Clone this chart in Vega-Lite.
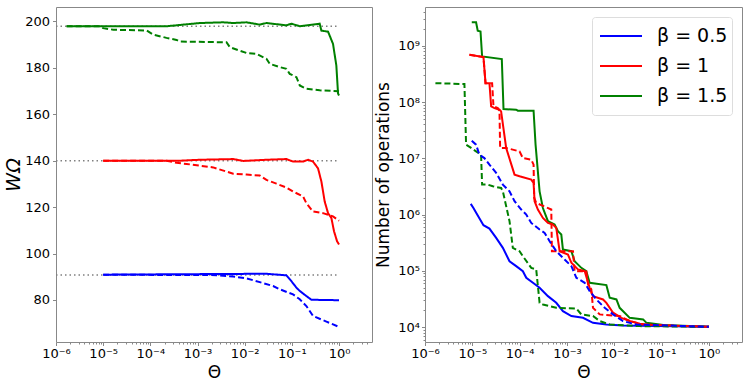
{
  "$schema": "https://vega.github.io/schema/vega-lite/v6.json",
  "background": "white",
  "padding": {"left": 4, "top": 6, "right": 0, "bottom": 0},
  "spacing": 1,
  "config": {
    "font": "DejaVu Sans",
    "view": {"stroke": "#888888", "strokeWidth": 1},
    "axis": {"domain": false, "grid": false, "tickSize": 3.5, "tickColor": "#888888", "labelFont": "DejaVu Sans", "labelFontSize": 13, "labelColor": "#000000", "titleFont": "DejaVu Sans", "titleFontSize": 17, "titleFontWeight": "normal", "titleColor": "#000000", "labelPadding": 2, "labelFlush": false, "labelOverlap": false}
  },
  "datasets": {
    "ref": [
      {"level": "g", "theta": 1e-6, "w": 197.9}, {"level": "g", "theta": 1, "w": 197.9},
      {"level": "r", "theta": 1e-6, "w": 140.0}, {"level": "r", "theta": 1, "w": 140.0},
      {"level": "b", "theta": 1e-6, "w": 90.8}, {"level": "b", "theta": 1, "w": 90.8}
    ],
    "left": [
      {"beta": "β = 1.5", "style": "solid", "theta": 1.68e-6, "w": 197.9},
      {"beta": "β = 1.5", "style": "solid", "theta": 2.2e-4, "w": 197.9},
      {"beta": "β = 1.5", "style": "solid", "theta": 1.12e-3, "w": 199.3},
      {"beta": "β = 1.5", "style": "solid", "theta": 3.49e-3, "w": 199.6},
      {"beta": "β = 1.5", "style": "solid", "theta": 5.71e-3, "w": 199.3},
      {"beta": "β = 1.5", "style": "solid", "theta": 1.09e-2, "w": 199.6},
      {"beta": "β = 1.5", "style": "solid", "theta": 2.09e-2, "w": 198.6},
      {"beta": "β = 1.5", "style": "solid", "theta": 2.89e-2, "w": 199.3},
      {"beta": "β = 1.5", "style": "solid", "theta": 7.67e-2, "w": 198.3},
      {"beta": "β = 1.5", "style": "solid", "theta": 9.77e-2, "w": 199.0},
      {"beta": "β = 1.5", "style": "solid", "theta": 0.147, "w": 197.9},
      {"beta": "β = 1.5", "style": "solid", "theta": 0.389, "w": 199.0},
      {"beta": "β = 1.5", "style": "solid", "theta": 0.423, "w": 196.0},
      {"beta": "β = 1.5", "style": "solid", "theta": 0.585, "w": 195.6},
      {"beta": "β = 1.5", "style": "solid", "theta": 0.746, "w": 190.3},
      {"beta": "β = 1.5", "style": "solid", "theta": 0.877, "w": 181.0},
      {"beta": "β = 1.5", "style": "solid", "theta": 0.953, "w": 168.9},
      {"beta": "β = 1.5", "style": "solid", "theta": 1, "w": 168.1},
      {"beta": "β = 1.5", "style": "dashed", "theta": 1.68e-6, "w": 197.9},
      {"beta": "β = 1.5", "style": "dashed", "theta": 8.55e-6, "w": 197.9},
      {"beta": "β = 1.5", "style": "dashed", "theta": 1.0e-5, "w": 197.1},
      {"beta": "β = 1.5", "style": "dashed", "theta": 1.64e-5, "w": 196.4},
      {"beta": "β = 1.5", "style": "dashed", "theta": 8.3e-5, "w": 196.1},
      {"beta": "β = 1.5", "style": "dashed", "theta": 1.15e-4, "w": 194.3},
      {"beta": "β = 1.5", "style": "dashed", "theta": 2.2e-4, "w": 192.9},
      {"beta": "β = 1.5", "style": "dashed", "theta": 3.59e-4, "w": 192.0},
      {"beta": "β = 1.5", "style": "dashed", "theta": 4.23e-4, "w": 191.3},
      {"beta": "β = 1.5", "style": "dashed", "theta": 4.11e-3, "w": 191.0},
      {"beta": "β = 1.5", "style": "dashed", "theta": 4.84e-3, "w": 188.9},
      {"beta": "β = 1.5", "style": "dashed", "theta": 7.87e-3, "w": 187.4},
      {"beta": "β = 1.5", "style": "dashed", "theta": 1.09e-2, "w": 186.4},
      {"beta": "β = 1.5", "style": "dashed", "theta": 1.77e-2, "w": 186.0},
      {"beta": "β = 1.5", "style": "dashed", "theta": 2.89e-2, "w": 183.9},
      {"beta": "β = 1.5", "style": "dashed", "theta": 3.40e-2, "w": 181.7},
      {"beta": "β = 1.5", "style": "dashed", "theta": 5.55e-2, "w": 180.3},
      {"beta": "β = 1.5", "style": "dashed", "theta": 7.67e-2, "w": 179.6},
      {"beta": "β = 1.5", "style": "dashed", "theta": 9.02e-2, "w": 177.4},
      {"beta": "β = 1.5", "style": "dashed", "theta": 0.125, "w": 176.0},
      {"beta": "β = 1.5", "style": "dashed", "theta": 0.147, "w": 172.4},
      {"beta": "β = 1.5", "style": "dashed", "theta": 0.203, "w": 171.0},
      {"beta": "β = 1.5", "style": "dashed", "theta": 0.389, "w": 170.3},
      {"beta": "β = 1.5", "style": "dashed", "theta": 1, "w": 169.9},
      {"beta": "β = 1", "style": "solid", "theta": 1e-5, "w": 140.0},
      {"beta": "β = 1", "style": "solid", "theta": 4.23e-4, "w": 140.0},
      {"beta": "β = 1", "style": "solid", "theta": 1.12e-3, "w": 140.4},
      {"beta": "β = 1", "style": "solid", "theta": 5.71e-3, "w": 140.7},
      {"beta": "β = 1", "style": "solid", "theta": 9.27e-3, "w": 139.9},
      {"beta": "β = 1", "style": "solid", "theta": 2.89e-2, "w": 140.4},
      {"beta": "β = 1", "style": "solid", "theta": 7.67e-2, "w": 140.7},
      {"beta": "β = 1", "style": "solid", "theta": 0.106, "w": 139.6},
      {"beta": "β = 1", "style": "solid", "theta": 0.173, "w": 139.6},
      {"beta": "β = 1", "style": "solid", "theta": 0.220, "w": 140.4},
      {"beta": "β = 1", "style": "solid", "theta": 0.281, "w": 139.6},
      {"beta": "β = 1", "style": "solid", "theta": 0.359, "w": 136.7},
      {"beta": "β = 1", "style": "solid", "theta": 0.423, "w": 131.0},
      {"beta": "β = 1", "style": "solid", "theta": 0.497, "w": 122.4},
      {"beta": "β = 1", "style": "solid", "theta": 0.585, "w": 117.4},
      {"beta": "β = 1", "style": "solid", "theta": 0.689, "w": 115.3},
      {"beta": "β = 1", "style": "solid", "theta": 0.783, "w": 109.6},
      {"beta": "β = 1", "style": "solid", "theta": 0.908, "w": 105.3},
      {"beta": "β = 1", "style": "solid", "theta": 1, "w": 103.9},
      {"beta": "β = 1", "style": "dashed", "theta": 1e-5, "w": 140.0},
      {"beta": "β = 1", "style": "dashed", "theta": 2.2e-4, "w": 140.0},
      {"beta": "β = 1", "style": "dashed", "theta": 3.59e-4, "w": 139.1},
      {"beta": "β = 1", "style": "dashed", "theta": 5.85e-4, "w": 138.6},
      {"beta": "β = 1", "style": "dashed", "theta": 2.15e-3, "w": 137.1},
      {"beta": "β = 1", "style": "dashed", "theta": 4.11e-3, "w": 135.3},
      {"beta": "β = 1", "style": "dashed", "theta": 5.71e-3, "w": 134.4},
      {"beta": "β = 1", "style": "dashed", "theta": 1.09e-2, "w": 134.0},
      {"beta": "β = 1", "style": "dashed", "theta": 2.09e-2, "w": 133.6},
      {"beta": "β = 1", "style": "dashed", "theta": 2.89e-2, "w": 131.7},
      {"beta": "β = 1", "style": "dashed", "theta": 4.71e-2, "w": 130.1},
      {"beta": "β = 1", "style": "dashed", "theta": 7.67e-2, "w": 128.4},
      {"beta": "β = 1", "style": "dashed", "theta": 0.106, "w": 126.7},
      {"beta": "β = 1", "style": "dashed", "theta": 0.173, "w": 124.6},
      {"beta": "β = 1", "style": "dashed", "theta": 0.203, "w": 121.7},
      {"beta": "β = 1", "style": "dashed", "theta": 0.281, "w": 118.1},
      {"beta": "β = 1", "style": "dashed", "theta": 0.458, "w": 117.4},
      {"beta": "β = 1", "style": "dashed", "theta": 0.746, "w": 116.0},
      {"beta": "β = 1", "style": "dashed", "theta": 1, "w": 114.1},
      {"beta": "β = 0.5", "style": "solid", "theta": 1e-5, "w": 90.9},
      {"beta": "β = 0.5", "style": "solid", "theta": 2.89e-2, "w": 91.3},
      {"beta": "β = 0.5", "style": "solid", "theta": 7.67e-2, "w": 90.6},
      {"beta": "β = 0.5", "style": "solid", "theta": 9.77e-2, "w": 88.1},
      {"beta": "β = 0.5", "style": "solid", "theta": 0.125, "w": 85.3},
      {"beta": "β = 0.5", "style": "solid", "theta": 0.147, "w": 83.9},
      {"beta": "β = 0.5", "style": "solid", "theta": 0.203, "w": 81.7},
      {"beta": "β = 0.5", "style": "solid", "theta": 0.259, "w": 80.1},
      {"beta": "β = 0.5", "style": "solid", "theta": 1, "w": 79.9},
      {"beta": "β = 0.5", "style": "dashed", "theta": 1e-5, "w": 90.9},
      {"beta": "β = 0.5", "style": "dashed", "theta": 2.52e-3, "w": 90.7},
      {"beta": "β = 0.5", "style": "dashed", "theta": 5.71e-3, "w": 90.1},
      {"beta": "β = 0.5", "style": "dashed", "theta": 1.09e-2, "w": 89.3},
      {"beta": "β = 0.5", "style": "dashed", "theta": 2.09e-2, "w": 87.7},
      {"beta": "β = 0.5", "style": "dashed", "theta": 4.0e-2, "w": 86.0},
      {"beta": "β = 0.5", "style": "dashed", "theta": 5.55e-2, "w": 84.6},
      {"beta": "β = 0.5", "style": "dashed", "theta": 0.106, "w": 82.4},
      {"beta": "β = 0.5", "style": "dashed", "theta": 0.147, "w": 80.3},
      {"beta": "β = 0.5", "style": "dashed", "theta": 0.203, "w": 77.4},
      {"beta": "β = 0.5", "style": "dashed", "theta": 0.281, "w": 73.1},
      {"beta": "β = 0.5", "style": "dashed", "theta": 0.410, "w": 71.7},
      {"beta": "β = 0.5", "style": "dashed", "theta": 0.540, "w": 70.7},
      {"beta": "β = 0.5", "style": "dashed", "theta": 1, "w": 68.4}
    ],
    "right": [
      {"beta": "β = 1.5", "style": "solid", "theta": 9.73e-6, "ops": 2.63e9},
      {"beta": "β = 1.5", "style": "solid", "theta": 1.20e-5, "ops": 2.63e9},
      {"beta": "β = 1.5", "style": "solid", "theta": 1.30e-5, "ops": 1.85e9},
      {"beta": "β = 1.5", "style": "solid", "theta": 1.49e-5, "ops": 1.80e9},
      {"beta": "β = 1.5", "style": "solid", "theta": 1.61e-5, "ops": 6.47e8},
      {"beta": "β = 1.5", "style": "solid", "theta": 4.20e-5, "ops": 5.80e8},
      {"beta": "β = 1.5", "style": "solid", "theta": 4.56e-5, "ops": 7.51e7},
      {"beta": "β = 1.5", "style": "solid", "theta": 8.45e-5, "ops": 7.31e7},
      {"beta": "β = 1.5", "style": "solid", "theta": 9.16e-5, "ops": 7.02e7},
      {"beta": "β = 1.5", "style": "solid", "theta": 1.97e-4, "ops": 7.02e7},
      {"beta": "β = 1.5", "style": "solid", "theta": 2.17e-4, "ops": 1.75e7},
      {"beta": "β = 1.5", "style": "solid", "theta": 2.64e-4, "ops": 2.59e6},
      {"beta": "β = 1.5", "style": "solid", "theta": 3.10e-4, "ops": 1.31e6},
      {"beta": "β = 1.5", "style": "solid", "theta": 3.96e-4, "ops": 7.62e5},
      {"beta": "β = 1.5", "style": "solid", "theta": 5.48e-4, "ops": 6.64e5},
      {"beta": "β = 1.5", "style": "solid", "theta": 6.44e-4, "ops": 5.06e5},
      {"beta": "β = 1.5", "style": "solid", "theta": 7.59e-4, "ops": 4.42e5},
      {"beta": "β = 1.5", "style": "solid", "theta": 8.22e-4, "ops": 2.39e5},
      {"beta": "β = 1.5", "style": "solid", "theta": 1.24e-3, "ops": 2.23e5},
      {"beta": "β = 1.5", "style": "solid", "theta": 1.45e-3, "ops": 1.48e5},
      {"beta": "β = 1.5", "style": "solid", "theta": 2.01e-3, "ops": 1.13e5},
      {"beta": "β = 1.5", "style": "solid", "theta": 2.56e-3, "ops": 9.86e4},
      {"beta": "β = 1.5", "style": "solid", "theta": 3.02e-3, "ops": 6.12e4},
      {"beta": "β = 1.5", "style": "solid", "theta": 6.81e-3, "ops": 5.57e4},
      {"beta": "β = 1.5", "style": "solid", "theta": 8.00e-3, "ops": 3.32e4},
      {"beta": "β = 1.5", "style": "solid", "theta": 1.11e-2, "ops": 3.10e4},
      {"beta": "β = 1.5", "style": "solid", "theta": 1.30e-2, "ops": 2.20e4},
      {"beta": "β = 1.5", "style": "solid", "theta": 2.12e-2, "ops": 1.46e4},
      {"beta": "β = 1.5", "style": "solid", "theta": 4.07e-2, "ops": 1.37e4},
      {"beta": "β = 1.5", "style": "solid", "theta": 4.79e-2, "ops": 1.19e4},
      {"beta": "β = 1.5", "style": "solid", "theta": 0.108, "ops": 1.09e4},
      {"beta": "β = 1.5", "style": "solid", "theta": 1, "ops": 1.01e4},
      {"beta": "β = 1.5", "style": "dashed", "theta": 1.66e-6, "ops": 2.17e8},
      {"beta": "β = 1.5", "style": "dashed", "theta": 6.81e-6, "ops": 2.09e8},
      {"beta": "β = 1.5", "style": "dashed", "theta": 7.38e-6, "ops": 1.75e7},
      {"beta": "β = 1.5", "style": "dashed", "theta": 9.42e-6, "ops": 1.53e7},
      {"beta": "β = 1.5", "style": "dashed", "theta": 1.20e-5, "ops": 1.33e7},
      {"beta": "β = 1.5", "style": "dashed", "theta": 1.53e-5, "ops": 1.16e7},
      {"beta": "β = 1.5", "style": "dashed", "theta": 1.61e-5, "ops": 3.41e6},
      {"beta": "β = 1.5", "style": "dashed", "theta": 2.12e-5, "ops": 3.41e6},
      {"beta": "β = 1.5", "style": "dashed", "theta": 2.71e-5, "ops": 3.18e6},
      {"beta": "β = 1.5", "style": "dashed", "theta": 4.06e-5, "ops": 2.97e6},
      {"beta": "β = 1.5", "style": "dashed", "theta": 4.42e-5, "ops": 2.59e6},
      {"beta": "β = 1.5", "style": "dashed", "theta": 6.11e-5, "ops": 7.62e5},
      {"beta": "β = 1.5", "style": "dashed", "theta": 7.18e-5, "ops": 2.56e5},
      {"beta": "β = 1.5", "style": "dashed", "theta": 9.95e-5, "ops": 2.23e5},
      {"beta": "β = 1.5", "style": "dashed", "theta": 1.17e-4, "ops": 1.82e5},
      {"beta": "β = 1.5", "style": "dashed", "theta": 1.76e-4, "ops": 1.13e5},
      {"beta": "β = 1.5", "style": "dashed", "theta": 2.24e-4, "ops": 1.06e5},
      {"beta": "β = 1.5", "style": "dashed", "theta": 2.64e-4, "ops": 2.70e4},
      {"beta": "β = 1.5", "style": "dashed", "theta": 3.10e-4, "ops": 2.52e4},
      {"beta": "β = 1.5", "style": "dashed", "theta": 5.94e-4, "ops": 2.20e4},
      {"beta": "β = 1.5", "style": "dashed", "theta": 1.58e-3, "ops": 2.14e4},
      {"beta": "β = 1.5", "style": "dashed", "theta": 2.01e-3, "ops": 1.68e4},
      {"beta": "β = 1.5", "style": "dashed", "theta": 3.55e-3, "ops": 1.57e4},
      {"beta": "β = 1.5", "style": "dashed", "theta": 4.92e-3, "ops": 1.28e4},
      {"beta": "β = 1.5", "style": "dashed", "theta": 8.00e-3, "ops": 1.11e4},
      {"beta": "β = 1.5", "style": "dashed", "theta": 3.46e-2, "ops": 1.04e4},
      {"beta": "β = 1.5", "style": "dashed", "theta": 1, "ops": 1.01e4},
      {"beta": "β = 1", "style": "solid", "theta": 8.69e-6, "ops": 6.92e8},
      {"beta": "β = 1", "style": "solid", "theta": 1.72e-5, "ops": 6.30e8},
      {"beta": "β = 1", "style": "solid", "theta": 1.90e-5, "ops": 2.17e8},
      {"beta": "β = 1", "style": "solid", "theta": 2.30e-5, "ops": 2.17e8},
      {"beta": "β = 1", "style": "solid", "theta": 2.50e-5, "ops": 8.38e7},
      {"beta": "β = 1", "style": "solid", "theta": 2.94e-5, "ops": 7.82e7},
      {"beta": "β = 1", "style": "solid", "theta": 3.75e-5, "ops": 7.31e7},
      {"beta": "β = 1", "style": "solid", "theta": 4.06e-5, "ops": 6.83e7},
      {"beta": "β = 1", "style": "solid", "theta": 5.19e-5, "ops": 1.53e7},
      {"beta": "β = 1", "style": "solid", "theta": 7.80e-5, "ops": 5.13e6},
      {"beta": "β = 1", "style": "solid", "theta": 9.95e-5, "ops": 4.79e6},
      {"beta": "β = 1", "style": "solid", "theta": 1.76e-4, "ops": 4.18e6},
      {"beta": "β = 1", "style": "solid", "theta": 1.97e-4, "ops": 3.65e6},
      {"beta": "β = 1", "style": "solid", "theta": 2.07e-4, "ops": 1.73e6},
      {"beta": "β = 1", "style": "solid", "theta": 2.43e-4, "ops": 1.23e6},
      {"beta": "β = 1", "style": "solid", "theta": 3.10e-4, "ops": 8.73e5},
      {"beta": "β = 1", "style": "solid", "theta": 3.96e-4, "ops": 7.11e5},
      {"beta": "β = 1", "style": "solid", "theta": 5.05e-4, "ops": 6.64e5},
      {"beta": "β = 1", "style": "solid", "theta": 5.94e-4, "ops": 5.80e5},
      {"beta": "β = 1", "style": "solid", "theta": 7.00e-4, "ops": 2.23e5},
      {"beta": "β = 1", "style": "solid", "theta": 1.05e-3, "ops": 1.95e5},
      {"beta": "β = 1", "style": "solid", "theta": 1.24e-3, "ops": 1.39e5},
      {"beta": "β = 1", "style": "solid", "theta": 1.71e-3, "ops": 1.06e5},
      {"beta": "β = 1", "style": "solid", "theta": 2.37e-3, "ops": 9.86e4},
      {"beta": "β = 1", "style": "solid", "theta": 3.02e-3, "ops": 4.99e4},
      {"beta": "β = 1", "style": "solid", "theta": 3.55e-3, "ops": 3.55e4},
      {"beta": "β = 1", "style": "solid", "theta": 5.78e-3, "ops": 3.10e4},
      {"beta": "β = 1", "style": "solid", "theta": 6.81e-3, "ops": 2.70e4},
      {"beta": "β = 1", "style": "solid", "theta": 9.42e-3, "ops": 1.80e4},
      {"beta": "β = 1", "style": "solid", "theta": 1.41e-2, "ops": 1.46e4},
      {"beta": "β = 1", "style": "solid", "theta": 2.12e-2, "ops": 1.28e4},
      {"beta": "β = 1", "style": "solid", "theta": 3.46e-2, "ops": 1.15e4},
      {"beta": "β = 1", "style": "solid", "theta": 7.80e-2, "ops": 1.07e4},
      {"beta": "β = 1", "style": "solid", "theta": 1, "ops": 1.01e4},
      {"beta": "β = 1", "style": "dashed", "theta": 8.69e-6, "ops": 6.92e8},
      {"beta": "β = 1", "style": "dashed", "theta": 1.72e-5, "ops": 6.30e8},
      {"beta": "β = 1", "style": "dashed", "theta": 1.90e-5, "ops": 2.17e8},
      {"beta": "β = 1", "style": "dashed", "theta": 2.62e-5, "ops": 2.17e8},
      {"beta": "β = 1", "style": "dashed", "theta": 2.80e-5, "ops": 8.38e7},
      {"beta": "β = 1", "style": "dashed", "theta": 3.46e-5, "ops": 7.82e7},
      {"beta": "β = 1", "style": "dashed", "theta": 3.75e-5, "ops": 7.02e7},
      {"beta": "β = 1", "style": "dashed", "theta": 3.87e-5, "ops": 1.53e7},
      {"beta": "β = 1", "style": "dashed", "theta": 5.19e-5, "ops": 1.53e7},
      {"beta": "β = 1", "style": "dashed", "theta": 9.95e-5, "ops": 1.33e7},
      {"beta": "β = 1", "style": "dashed", "theta": 1.17e-4, "ops": 1.01e7},
      {"beta": "β = 1", "style": "dashed", "theta": 1.76e-4, "ops": 9.47e6},
      {"beta": "β = 1", "style": "dashed", "theta": 1.97e-4, "ops": 7.72e6},
      {"beta": "β = 1", "style": "dashed", "theta": 2.03e-4, "ops": 1.98e6},
      {"beta": "β = 1", "style": "dashed", "theta": 2.24e-4, "ops": 1.61e6},
      {"beta": "β = 1", "style": "dashed", "theta": 4.66e-4, "ops": 1.23e6},
      {"beta": "β = 1", "style": "dashed", "theta": 4.81e-4, "ops": 2.23e5},
      {"beta": "β = 1", "style": "dashed", "theta": 1.34e-3, "ops": 2.23e5},
      {"beta": "β = 1", "style": "dashed", "theta": 1.45e-3, "ops": 9.86e4},
      {"beta": "β = 1", "style": "dashed", "theta": 2.56e-3, "ops": 9.86e4},
      {"beta": "β = 1", "style": "dashed", "theta": 2.79e-3, "ops": 5.72e4},
      {"beta": "β = 1", "style": "dashed", "theta": 3.27e-3, "ops": 4.67e4},
      {"beta": "β = 1", "style": "dashed", "theta": 3.55e-3, "ops": 2.20e4},
      {"beta": "β = 1", "style": "dashed", "theta": 4.92e-3, "ops": 1.68e4},
      {"beta": "β = 1", "style": "dashed", "theta": 1.30e-2, "ops": 1.57e4},
      {"beta": "β = 1", "style": "dashed", "theta": 2.12e-2, "ops": 1.28e4},
      {"beta": "β = 1", "style": "dashed", "theta": 4.07e-2, "ops": 1.11e4},
      {"beta": "β = 1", "style": "dashed", "theta": 1, "ops": 1.01e4},
      {"beta": "β = 0.5", "style": "solid", "theta": 9.27e-6, "ops": 1.55e6},
      {"beta": "β = 0.5", "style": "solid", "theta": 1.056e-5, "ops": 1.31e6},
      {"beta": "β = 0.5", "style": "solid", "theta": 1.24e-5, "ops": 1.03e6},
      {"beta": "β = 0.5", "style": "solid", "theta": 1.46e-5, "ops": 8.15e5},
      {"beta": "β = 0.5", "style": "solid", "theta": 1.72e-5, "ops": 6.47e5},
      {"beta": "β = 0.5", "style": "solid", "theta": 2.30e-5, "ops": 5.64e5},
      {"beta": "β = 0.5", "style": "solid", "theta": 3.19e-5, "ops": 3.85e5},
      {"beta": "β = 0.5", "style": "solid", "theta": 4.42e-5, "ops": 2.56e5},
      {"beta": "β = 0.5", "style": "solid", "theta": 6.11e-5, "ops": 1.48e5},
      {"beta": "β = 0.5", "style": "solid", "theta": 8.45e-5, "ops": 1.21e5},
      {"beta": "β = 0.5", "style": "solid", "theta": 1.17e-4, "ops": 9.86e4},
      {"beta": "β = 0.5", "style": "solid", "theta": 1.38e-4, "ops": 7.52e4},
      {"beta": "β = 0.5", "style": "solid", "theta": 1.91e-4, "ops": 6.12e4},
      {"beta": "β = 0.5", "style": "solid", "theta": 2.64e-4, "ops": 4.99e4},
      {"beta": "β = 0.5", "style": "solid", "theta": 3.96e-4, "ops": 3.55e4},
      {"beta": "β = 0.5", "style": "solid", "theta": 5.94e-4, "ops": 2.70e4},
      {"beta": "β = 0.5", "style": "solid", "theta": 8.22e-4, "ops": 1.92e4},
      {"beta": "β = 0.5", "style": "solid", "theta": 1.24e-3, "ops": 1.57e4},
      {"beta": "β = 0.5", "style": "solid", "theta": 2.18e-3, "ops": 1.46e4},
      {"beta": "β = 0.5", "style": "solid", "theta": 3.55e-3, "ops": 1.19e4},
      {"beta": "β = 0.5", "style": "solid", "theta": 6.81e-3, "ops": 1.11e4},
      {"beta": "β = 0.5", "style": "solid", "theta": 1.53e-2, "ops": 1.07e4},
      {"beta": "β = 0.5", "style": "solid", "theta": 1, "ops": 1.01e4},
      {"beta": "β = 0.5", "style": "dashed", "theta": 9.73e-6, "ops": 2.06e7},
      {"beta": "β = 0.5", "style": "dashed", "theta": 1.20e-5, "ops": 1.75e7},
      {"beta": "β = 0.5", "style": "dashed", "theta": 1.41e-5, "ops": 1.16e7},
      {"beta": "β = 0.5", "style": "dashed", "theta": 1.80e-5, "ops": 1.01e7},
      {"beta": "β = 0.5", "style": "dashed", "theta": 2.30e-5, "ops": 7.72e6},
      {"beta": "β = 0.5", "style": "dashed", "theta": 3.19e-5, "ops": 5.50e6},
      {"beta": "β = 0.5", "style": "dashed", "theta": 4.42e-5, "ops": 3.41e6},
      {"beta": "β = 0.5", "style": "dashed", "theta": 6.11e-5, "ops": 2.59e6},
      {"beta": "β = 0.5", "style": "dashed", "theta": 7.80e-5, "ops": 1.73e6},
      {"beta": "β = 0.5", "style": "dashed", "theta": 1.08e-4, "ops": 1.23e6},
      {"beta": "β = 0.5", "style": "dashed", "theta": 1.38e-4, "ops": 1.0e6},
      {"beta": "β = 0.5", "style": "dashed", "theta": 1.76e-4, "ops": 7.11e5},
      {"beta": "β = 0.5", "style": "dashed", "theta": 2.64e-4, "ops": 5.42e5},
      {"beta": "β = 0.5", "style": "dashed", "theta": 3.37e-4, "ops": 4.73e5},
      {"beta": "β = 0.5", "style": "dashed", "theta": 4.30e-4, "ops": 3.36e5},
      {"beta": "β = 0.5", "style": "dashed", "theta": 5.94e-4, "ops": 2.23e5},
      {"beta": "β = 0.5", "style": "dashed", "theta": 8.92e-4, "ops": 1.59e5},
      {"beta": "β = 0.5", "style": "dashed", "theta": 1.24e-3, "ops": 1.21e5},
      {"beta": "β = 0.5", "style": "dashed", "theta": 1.58e-3, "ops": 7.52e4},
      {"beta": "β = 0.5", "style": "dashed", "theta": 2.37e-3, "ops": 6.12e4},
      {"beta": "β = 0.5", "style": "dashed", "theta": 3.02e-3, "ops": 4.36e4},
      {"beta": "β = 0.5", "style": "dashed", "theta": 4.18e-3, "ops": 3.10e4},
      {"beta": "β = 0.5", "style": "dashed", "theta": 6.28e-3, "ops": 2.20e4},
      {"beta": "β = 0.5", "style": "dashed", "theta": 9.42e-3, "ops": 1.68e4},
      {"beta": "β = 0.5", "style": "dashed", "theta": 1.53e-2, "ops": 1.28e4},
      {"beta": "β = 0.5", "style": "dashed", "theta": 2.94e-2, "ops": 1.11e4},
      {"beta": "β = 0.5", "style": "dashed", "theta": 1, "ops": 1.01e4}
    ]
  },
  "resolve": {"scale": {"color": "independent", "strokeDash": "independent"}, "legend": {"color": "independent", "strokeDash": "independent"}},
  "hconcat": [
    {
      "width": 316,
      "height": 335,
      "resolve": {"axis": {"x": "independent"}},
      "layer": [
        {
          "data": {"name": "ref"},
          "mark": {"type": "line", "color": "#808080", "strokeDash": [1.5, 3], "strokeWidth": 1.5},
          "encoding": {
            "x": {"field": "theta", "type": "quantitative", "scale": {"type": "log", "domain": [1e-6, 5.0], "nice": false},
                  "axis": {"orient": "bottom", "title": "Θ", "values": [1e-6, 1e-5, 1e-4, 1e-3, 1e-2, 1e-1, 1], "labelExpr": "'10' + ['⁰','⁻¹','⁻²','⁻³','⁻⁴','⁻⁵','⁻⁶'][round(-log(datum.value)/LN10)]", "titlePadding": 4}},
            "y": {"field": "w", "type": "quantitative", "scale": {"domain": [61.9, 206.2], "nice": false, "zero": false},
                  "axis": {"title": "WΩ", "titleFontStyle": "italic", "titleFontSize": 19, "values": [80, 100, 120, 140, 160, 180, 200], "labelPadding": 3, "titlePadding": 1}},
            "detail": {"field": "level", "type": "nominal"}
          }
        },
        {
          "data": {"name": "left"},
          "mark": {"type": "line", "strokeWidth": 2},
          "encoding": {
            "x": {"field": "theta", "type": "quantitative",
                  "axis": {"orient": "bottom", "title": null, "labels": false, "tickSize": 2, "values": [2e-6,3e-6,4e-6,5e-6,6e-6,7e-6,8e-6,9e-6,2e-5,3e-5,4e-5,5e-5,6e-5,7e-5,8e-5,9e-5,2e-4,3e-4,4e-4,5e-4,6e-4,7e-4,8e-4,9e-4,2e-3,3e-3,4e-3,5e-3,6e-3,7e-3,8e-3,9e-3,2e-2,3e-2,4e-2,5e-2,6e-2,7e-2,8e-2,9e-2,0.2,0.3,0.4,0.5,0.6,0.7,0.8,0.9,2,3,4]}},
            "y": {"field": "w", "type": "quantitative"},
            "color": {"field": "beta", "type": "nominal", "scale": {"domain": ["β = 0.5", "β = 1", "β = 1.5"], "range": ["#0000ff", "#ff0000", "#008000"]}, "legend": null},
            "strokeDash": {"field": "style", "type": "nominal", "scale": {"domain": ["solid", "dashed"], "range": [[1, 0], [6, 3]]}, "legend": null}
          }
        }
      ]
    },
    {
      "width": 317,
      "height": 335,
      "data": {"name": "right"},
      "resolve": {"axis": {"x": "independent", "y": "independent"}},
      "layer": [
        {
          "transform": [{"filter": "datum.style === 'solid'"}],
          "mark": {"type": "line", "strokeWidth": 2},
          "encoding": {
            "x": {"field": "theta", "type": "quantitative", "scale": {"type": "log", "domain": [1e-6, 5.0], "nice": false},
                  "axis": {"orient": "bottom", "title": "Θ", "values": [1e-6, 1e-5, 1e-4, 1e-3, 1e-2, 1e-1, 1], "labelExpr": "'10' + ['⁰','⁻¹','⁻²','⁻³','⁻⁴','⁻⁵','⁻⁶'][round(-log(datum.value)/LN10)]", "titlePadding": 4}},
            "y": {"field": "ops", "type": "quantitative", "scale": {"type": "log", "domain": [5430, 4.9e9], "nice": false},
                  "axis": {"orient": "left", "title": "Number of operations", "values": [1e4, 1e5, 1e6, 1e7, 1e8, 1e9], "labelExpr": "'10' + ['⁰','¹','²','³','⁴','⁵','⁶','⁷','⁸','⁹'][round(log(datum.value)/LN10)]", "labelPadding": 2, "titlePadding": 5}},
            "color": {"field": "beta", "type": "nominal", "scale": {"domain": ["β = 0.5", "β = 1", "β = 1.5"], "range": ["#0000ff", "#ff0000", "#008000"]},
                      "legend": {"orient": "top-right", "offset": 10, "title": null, "symbolType": "stroke", "symbolSize": 1764, "symbolStrokeWidth": 2, "symbolOffset": 3, "labelFont": "DejaVu Sans", "labelFontSize": 19, "labelColor": "#000000", "labelOffset": 14, "padding": 4, "rowPadding": 0, "clipHeight": 30, "strokeColor": "#dddddd", "fillColor": "#ffffff", "cornerRadius": 3}}
          }
        },
        {
          "transform": [{"filter": "datum.style === 'dashed'"}],
          "mark": {"type": "line", "strokeWidth": 2, "strokeDash": [6, 3]},
          "encoding": {
            "x": {"field": "theta", "type": "quantitative",
                  "axis": {"orient": "bottom", "title": null, "labels": false, "tickSize": 2, "values": [2e-6,3e-6,4e-6,5e-6,6e-6,7e-6,8e-6,9e-6,2e-5,3e-5,4e-5,5e-5,6e-5,7e-5,8e-5,9e-5,2e-4,3e-4,4e-4,5e-4,6e-4,7e-4,8e-4,9e-4,2e-3,3e-3,4e-3,5e-3,6e-3,7e-3,8e-3,9e-3,2e-2,3e-2,4e-2,5e-2,6e-2,7e-2,8e-2,9e-2,0.2,0.3,0.4,0.5,0.6,0.7,0.8,0.9,2,3,4]}},
            "y": {"field": "ops", "type": "quantitative",
                  "axis": {"orient": "left", "title": null, "labels": false, "tickSize": 2, "values": [6e3,7e3,8e3,9e3,2e4,3e4,4e4,5e4,6e4,7e4,8e4,9e4,2e5,3e5,4e5,5e5,6e5,7e5,8e5,9e5,2e6,3e6,4e6,5e6,6e6,7e6,8e6,9e6,2e7,3e7,4e7,5e7,6e7,7e7,8e7,9e7,2e8,3e8,4e8,5e8,6e8,7e8,8e8,9e8,2e9,3e9,4e9]}},
            "color": {"field": "beta", "type": "nominal"}
          }
        }
      ]
    }
  ]
}
